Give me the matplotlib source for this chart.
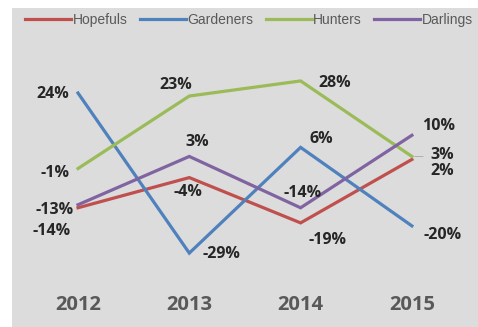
import matplotlib
matplotlib.use("Agg")
import matplotlib.pyplot as plt
from matplotlib.patches import Rectangle

years = ["2012", "2013", "2014", "2015"]
hopefuls = [-14, -4, -19, 2]
gardeners = [24, -29, 6, -20]
hunters = [-1, 23, 28, 3]
darlings = [-13, 3, -14, 10]

series = [
    ("Hopefuls", hopefuls, "#c0504d"),
    ("Gardeners", gardeners, "#4f81bd"),
    ("Hunters", hunters, "#9bbb59"),
    ("Darlings", darlings, "#8064a2"),
]

# label offsets in pixels (dx, dy upward)
offsets = {
    "Hopefuls": [(-26, -23), (-1, -14), (27, -17), (30, -12)],
    "Gardeners": [(-25, -1), (32, -1), (21, 8), (31, -9)],
    "Hunters": [(-23, -4), (-14, 11), (34, -2), (30, 1)],
    "Darlings": [(-23, -5), (8, 14), (2, 15), (27, 9)],
}

W, H = 478, 327
fig = plt.figure(figsize=(W / 100, H / 100), dpi=100)
fig.patch.set_facecolor("white")
fig.add_artist(Rectangle((12 / W, 0), 1 - 12 / W, 1 - 8 / H,
                         transform=fig.transFigure, facecolor="#dcdcdc",
                         edgecolor="none", zorder=0))

ax = fig.add_axes([0, 0, 1, 1])
ax.set_facecolor("none")
x = list(range(len(years)))
for name, vals, col in series:
    ax.plot(x, vals, color=col, lw=2.3, label=name, solid_joinstyle="miter")
    for i, v in enumerate(vals):
        dx, dy = offsets[name][i]
        ax.annotate(f"{v}%", (i, v), xytext=(dx, dy), textcoords="offset pixels",
                    ha="center", va="center", fontsize=11.5, fontweight="bold",
                    color="#262626", family="Open Sans")

# leader line near 3%
ax.annotate("", (3, 3), xytext=(14, 0), textcoords="offset pixels",
            arrowprops=dict(arrowstyle="-", color="#a8a8a8", lw=0.6))

ax.set_xlim(-78 / 111.3, (W - 78) / 111.3)
ax.set_ylim(-(H - 165.5) / 3.02, 165.5 / 3.02)

# x tick labels drawn as text at data x positions
for i, yr in enumerate(years):
    ax.annotate(yr, (i, 0), xycoords=("data", "figure pixels"),
                xytext=(0, H - 305), textcoords="offset pixels",
                ha="center", va="center", fontsize=14.5, fontweight="bold",
                color="#595959", family="Open Sans")

ax.axis("off")

leg = ax.legend(loc="center", bbox_to_anchor=(249 / W, 1 - 20 / H), ncol=4,
                frameon=False, handlelength=3.3, handletextpad=0.1,
                columnspacing=0.9, prop={"family": "Liberation Sans", "size": 10})
for t in leg.get_texts():
    t.set_color("#595959")

fig.savefig("out.png", dpi=100, facecolor="white")
